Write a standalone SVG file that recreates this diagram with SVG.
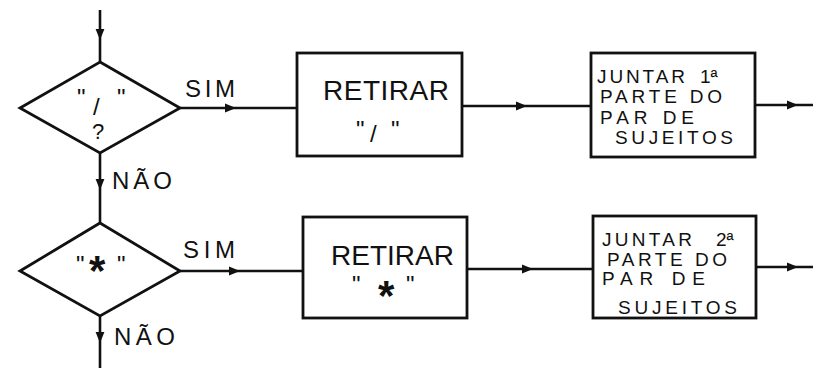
<svg xmlns="http://www.w3.org/2000/svg" width="813" height="368" viewBox="0 0 813 368">
  <style>
    .shape { fill: #fff; stroke: #111; stroke-width: 2.8; stroke-linejoin: miter; }
    .wire { fill: none; stroke: #111; stroke-width: 2.6; marker-mid: url(#head); }
    text { font-family: "Liberation Sans", Arial, sans-serif; fill: #111; }
    .lbl { font-size: 24px; }
    .big { font-size: 28px; }
    .small { font-size: 19px; }
    .mid { text-anchor: middle; }
  </style>
  <defs>
    <marker id="head" viewBox="0 0 10 10" refX="10" refY="5" markerWidth="14" markerHeight="11" markerUnits="userSpaceOnUse" orient="auto">
      <path d="M0,1 L10,5 L0,9 Z" fill="#111"/>
    </marker>
  </defs>

  <!-- connectors: each path carries its arrowhead on the middle vertex -->
  <g id="connectors">
    <path class="wire" d="M100,10 L100,40 L100,62"/>
    <path class="wire" d="M180,108 L236,108 L297,108"/>
    <path class="wire" d="M462,106 L527,106 L591,106"/>
    <path class="wire" d="M755,105 L798,105 L813,105"/>
    <path class="wire" d="M100,153 L100,190 L100,223"/>
    <path class="wire" d="M180,271 L240,271 L303,271"/>
    <path class="wire" d="M467,269 L533,269 L593,269"/>
    <path class="wire" d="M756,267 L798,267 L813,267"/>
    <path class="wire" d="M100,316 L100,343 L100,368"/>
  </g>

  <!-- test for "/" -->
  <g id="decision-slash">
    <polygon class="shape" points="100,62 180,108 100,153 20,108"/>
    <text class="lbl" x="77" y="106">"</text>
    <text class="lbl" x="93" y="115">/</text>
    <text class="lbl" x="117" y="106">"</text>
    <text class="mid" font-size="22" x="98" y="139">?</text>
    <text class="lbl" x="185" y="97" textLength="50" lengthAdjust="spacing">SIM</text>
    <text class="lbl" x="112" y="189" textLength="60" lengthAdjust="spacing">NÃO</text>
  </g>

  <g id="remove-slash">
    <rect class="shape" x="297" y="53" width="165" height="103"/>
    <text class="big" x="323" y="100" textLength="126" lengthAdjust="spacing">RETIRAR</text>
    <text class="lbl" x="356" y="138">"</text>
    <text class="lbl" x="370" y="142">/</text>
    <text class="lbl" x="391" y="138">"</text>
  </g>

  <g id="join-first">
    <rect class="shape" x="591" y="53" width="164" height="104"/>
    <text class="small" x="597" y="83" textLength="88" lengthAdjust="spacing">JUNTAR</text>
    <text class="small" x="700" y="83">1ª</text>
    <text class="small" x="600" y="103" textLength="122" lengthAdjust="spacing">PARTE DO</text>
    <text class="small" x="600" y="124" textLength="94" lengthAdjust="spacing">PAR DE</text>
    <text class="small" x="615" y="144" textLength="118" lengthAdjust="spacing">SUJEITOS</text>
  </g>

  <!-- test for "*" -->
  <g id="decision-star">
    <polygon class="shape" points="100,223 180,271 100,316 20,271"/>
    <text class="lbl" x="76" y="273">"</text>
    <text font-size="42" font-weight="bold" x="89" y="285">*</text>
    <text class="lbl" x="117" y="273">"</text>
    <text class="lbl" x="183" y="258" textLength="52" lengthAdjust="spacing">SIM</text>
    <text class="lbl" x="114" y="345" textLength="61" lengthAdjust="spacing">NÃO</text>
  </g>

  <g id="remove-star">
    <rect class="shape" x="303" y="217" width="164" height="101"/>
    <text class="big" x="331" y="265" textLength="123" lengthAdjust="spacing">RETIRAR</text>
    <text class="lbl" x="352" y="293">"</text>
    <text font-size="42" font-weight="bold" x="378" y="310">*</text>
    <text class="lbl" x="406" y="293">"</text>
  </g>

  <g id="join-second">
    <rect class="shape" x="593" y="216" width="163" height="102"/>
    <text class="small" x="602" y="246" textLength="90" lengthAdjust="spacing">JUNTAR</text>
    <text class="small" x="716" y="246">2ª</text>
    <text class="small" x="607" y="266" textLength="120" lengthAdjust="spacing">PARTE DO</text>
    <text class="small" x="602" y="285" textLength="103" lengthAdjust="spacing">PAR DE</text>
    <text class="small" x="618" y="314" textLength="119" lengthAdjust="spacing">SUJEITOS</text>
  </g>
</svg>
